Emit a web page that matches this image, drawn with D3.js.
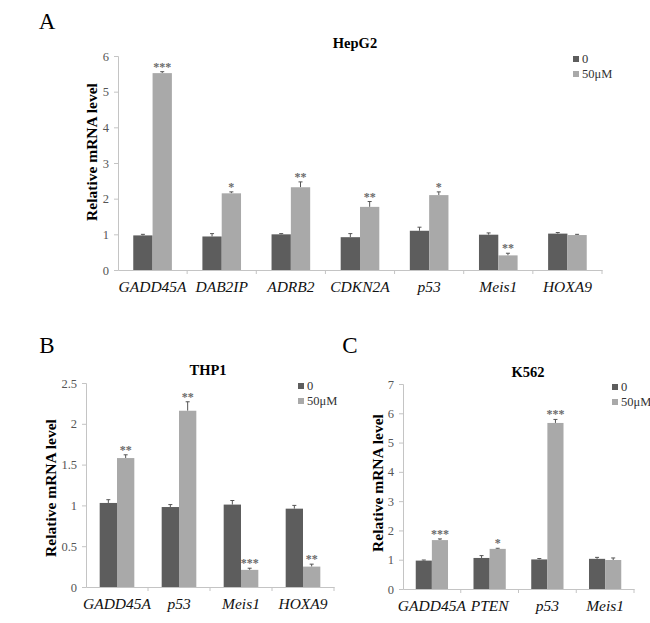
<!DOCTYPE html>
<html>
<head>
<meta charset="utf-8">
<script src="https://cdn.jsdelivr.net/npm/d3@7"></script>
<style>
  body { margin: 0; background: #fff; }
  svg { font-family: "Liberation Serif", "Times New Roman", serif; }
</style>
</head>
<body>
<div id="chart"></div>
<script>
// series names
const seriesNames = ["0", "50μM"];

// panel A - HepG2
const hepCats = ["GADD45A", "DAB2IP", "ADRB2", "CDKN2A", "p53", "Meis1", "HOXA9"];
const hepCtrl = [0.97, 0.94, 1.00, 0.92, 1.10, 0.99, 1.02];
const hepCtrlErr = [0.03, 0.08, 0.02, 0.10, 0.10, 0.05, 0.03];
const hepTreat = [5.52, 2.15, 2.32, 1.77, 2.10, 0.41, 0.98];
const hepTreatErr = [0.04, 0.04, 0.15, 0.15, 0.09, 0.06, 0.02];
const hepStars = ["***", "*", "**", "**", "*", "**", ""];
const hepTicks = [0, 1, 2, 3, 4, 5, 6];

// panel B - THP1
const thpCats = ["GADD45A", "p53", "Meis1", "HOXA9"];
const thpCtrl = [1.03, 0.98, 1.01, 0.96];
const thpCtrlErr = [0.04, 0.03, 0.05, 0.04];
const thpTreat = [1.58, 2.16, 0.21, 0.25];
const thpTreatErr = [0.04, 0.11, 0.02, 0.03];
const thpStars = ["**", "**", "***", "**"];
const thpTicks = [0, 0.5, 1, 1.5, 2, 2.5];

// panel C - K562
const kCats = ["GADD45A", "PTEN", "p53", "Meis1"];
const kCtrl = [0.97, 1.06, 1.01, 1.03];
const kCtrlErr = [0.02, 0.08, 0.03, 0.05];
const kTreat = [1.67, 1.37, 5.67, 0.99];
const kTreatErr = [0.04, 0.02, 0.12, 0.07];
const kStars = ["***", "*", "***", ""];
const kTicks = [0, 1, 2, 3, 4, 5, 6, 7];

const width = 650;
const height = 623;
const colors = ["#5d5d5d", "#a9a9a9"];

const svg = d3.select("#chart")
    .append("svg")
    .attr("width", width)
    .attr("height", height);

function drawPanel(p) {
    const g = svg.append("g");

    const xScale = d3.scaleBand()
        .domain(p.cats)
        .range([p.left, p.right])
        .padding(0);

    const xSub = d3.scaleBand()
        .domain(seriesNames)
        .range([0, xScale.bandwidth()])
        .paddingInner(0)
        .paddingOuter(0.79);

    const yScale = d3.scaleLinear()
        .domain([0, d3.max(p.ticks)])
        .range([p.bottom, p.top]);

    // y axis
    const yAxis = g.append("g")
        .attr("transform", `translate(${p.left},0)`)
        .call(d3.axisLeft(yScale).tickValues(p.ticks).tickSize(4).tickPadding(5).tickFormat(d => d));
    yAxis.select(".domain").attr("stroke", "#c4c4c4");
    yAxis.selectAll(".tick line").attr("stroke", "#c4c4c4");
    yAxis.selectAll("text")
        .attr("fill", "#555")
        .style("font-family", "Liberation Serif, serif")
        .style("font-size", "12.5px");

    // x axis, ticks between categories
    const xAxis = g.append("g")
        .attr("transform", `translate(0,${p.bottom})`)
        .call(d3.axisBottom(xScale).tickSize(0).tickPadding(11));
    xAxis.select(".domain").attr("stroke", "#c4c4c4");
    xAxis.selectAll("text")
        .attr("fill", "#111")
        .style("font-family", "Liberation Serif, serif")
        .style("font-style", "italic")
        .style("font-size", "15.5px");
    g.selectAll(".cat-tick")
        .data(p.cats.slice(1).concat(["end"]))
        .enter()
        .append("line")
        .attr("x1", (d, i) => p.left + xScale.step() * (i + 1))
        .attr("x2", (d, i) => p.left + xScale.step() * (i + 1))
        .attr("y1", p.bottom)
        .attr("y2", p.bottom + 4)
        .attr("stroke", "#c4c4c4");

    const rows = [];
    p.cats.forEach(function (c, i) {
        rows.push({ cat: c, s: seriesNames[0], v: p.ctrl[i], e: p.ctrlErr[i], star: "" });
        rows.push({ cat: c, s: seriesNames[1], v: p.treat[i], e: p.treatErr[i], star: p.stars[i] });
    });

    // error bars
    g.selectAll(".err")
        .data(rows)
        .enter()
        .append("path")
        .attr("d", function (d) {
            const cx = xScale(d.cat) + xSub(d.s) + xSub.bandwidth() / 2;
            const y1 = yScale(d.v);
            const y2 = yScale(d.v + d.e);
            return `M${cx},${y1}V${y2}M${cx - 2},${y2}H${cx + 2}`;
        })
        .attr("stroke", "#555")
        .attr("stroke-width", 1)
        .attr("fill", "none");

    // bars
    g.selectAll(".bar")
        .data(rows)
        .enter()
        .append("rect")
        .attr("x", d => xScale(d.cat) + xSub(d.s))
        .attr("y", d => yScale(d.v))
        .attr("width", xSub.bandwidth())
        .attr("height", d => p.bottom - yScale(d.v))
        .attr("fill", d => d.s === seriesNames[0] ? colors[0] : colors[1]);

    // significance stars
    g.selectAll(".star")
        .data(rows.filter(d => d.star))
        .enter()
        .append("text")
        .attr("x", d => xScale(d.cat) + xSub(d.s) + xSub.bandwidth() / 2)
        .attr("y", d => yScale(d.v + d.e) - 1)
        .attr("text-anchor", "middle")
        .attr("fill", "#6a6a6a")
        .style("font-size", "12px")
        .style("font-weight", "bold")
        .text(d => d.star);

    // title + panel letter
    g.append("text")
        .attr("x", p.titleX)
        .attr("y", p.titleY)
        .attr("text-anchor", "middle")
        .style("font-weight", "bold")
        .style("font-size", "14.5px")
        .text(p.title);

    g.append("text")
        .attr("x", p.letterX)
        .attr("y", p.letterY)
        .attr("text-anchor", "middle")
        .style("font-size", "23px")
        .text(p.letter);

    // y label
    g.append("text")
        .attr("transform", `translate(${p.labelX},${p.labelY}) rotate(-90)`)
        .attr("text-anchor", "middle")
        .style("font-weight", "bold")
        .style("font-size", "15.5px")
        .text("Relative mRNA level");

    // legend
    const leg = g.append("g")
        .attr("transform", `translate(${p.legX},${p.legY})`);
    seriesNames.forEach(function (s, i) {
        leg.append("rect")
            .attr("x", 0)
            .attr("y", i * 15 - 3)
            .attr("width", 6)
            .attr("height", 6)
            .attr("fill", colors[i]);
        leg.append("text")
            .attr("x", 9)
            .attr("y", i * 15 + 4)
            .attr("fill", "#333")
            .style("font-size", "12.5px")
            .text(s);
    });
}

drawPanel({
    cats: hepCats, ctrl: hepCtrl, ctrlErr: hepCtrlErr, treat: hepTreat, treatErr: hepTreatErr,
    stars: hepStars, ticks: hepTicks,
    left: 118, right: 602, top: 56, bottom: 270,
    title: "HepG2", titleX: 355, titleY: 48,
    letter: "A", letterX: 47, letterY: 29,
    labelX: 97, labelY: 152,
    legX: 573, legY: 59
});

drawPanel({
    cats: thpCats, ctrl: thpCtrl, ctrlErr: thpCtrlErr, treat: thpTreat, treatErr: thpTreatErr,
    stars: thpStars, ticks: thpTicks,
    left: 86, right: 334, top: 383, bottom: 587,
    title: "THP1", titleX: 208, titleY: 375,
    letter: "B", letterX: 47, letterY: 353,
    labelX: 56, labelY: 488,
    legX: 298, legY: 386
});

drawPanel({
    cats: kCats, ctrl: kCtrl, ctrlErr: kCtrlErr, treat: kTreat, treatErr: kTreatErr,
    stars: kStars, ticks: kTicks,
    left: 403, right: 634, top: 384, bottom: 589,
    title: "K562", titleX: 528, titleY: 377,
    letter: "C", letterX: 350, letterY: 353,
    labelX: 383, labelY: 483,
    legX: 612, legY: 387
});
</script>
</body>
</html>
